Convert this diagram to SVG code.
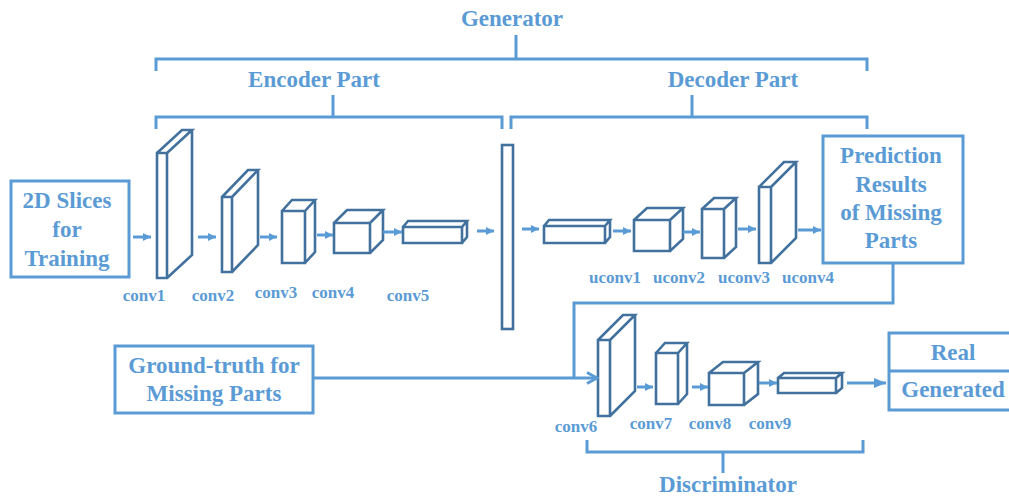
<svg xmlns="http://www.w3.org/2000/svg" width="1009" height="497" viewBox="0 0 1009 497">
<style>
.t{font-family:"Liberation Serif","Times New Roman",serif;font-weight:bold;fill:#5B9BD5;text-anchor:middle}
.big{font-size:23px}
.sm{font-size:17px}
.br{fill:none;stroke:#5B9BD5;stroke-width:3}
.box{fill:#fff;stroke:#5B9BD5;stroke-width:3}
.cub{fill:#fff;stroke:#41719C;stroke-width:2.6;stroke-linejoin:miter}
.ar{fill:none;stroke:#5B9BD5;stroke-width:3;marker-end:url(#ah)}
.ln{fill:none;stroke:#5B9BD5;stroke-width:3}
</style>
<defs>
<marker id="ah" markerUnits="userSpaceOnUse" markerWidth="10" markerHeight="10" viewBox="0 0 10 10" refX="9" refY="5" orient="auto"><path d="M1,1 L9,5 L1,9 Z" fill="#5B9BD5"/></marker>
<marker id="ah2" markerUnits="userSpaceOnUse" markerWidth="14" markerHeight="14" viewBox="0 0 14 14" refX="12" refY="7" orient="auto"><path d="M2,1.5 L12,7 L2,12.5" fill="none" stroke="#5B9BD5" stroke-width="3"/></marker>
<marker id="ah3" markerUnits="userSpaceOnUse" markerWidth="14" markerHeight="14" viewBox="0 0 14 14" refX="13" refY="7" orient="auto"><path d="M1,2 L13,7 L1,12 Z" fill="#5B9BD5"/></marker>
</defs>

<g id="labels-brackets">
<text class="t big" x="512" y="26">Generator</text>
<path class="br" d="M156,71 V59 H867 V71 M516,59 V35"/>
<text class="t big" x="314" y="87">Encoder Part</text>
<path class="br" d="M156,129 V117 H502 V129 M333,117 V95"/>
<text class="t big" x="733" y="87">Decoder Part</text>
<path class="br" d="M511,129 V117 H867 V129 M692,117 V95"/>
<text class="t big" x="728" y="492">Discriminator</text>
<path class="br" d="M587,440 V452 H863 V440 M723,452 V473"/>
</g>

<g id="input-slices">
<rect class="box" x="11" y="181" width="118" height="96"/>
<text class="t big" x="67" y="208">2D Slices</text>
<text class="t big" x="67" y="237">for</text>
<text class="t big" x="67" y="266">Training</text>
</g>

<g id="ground-truth">
<rect class="box" x="115" y="346" width="198" height="67"/>
<text class="t big" x="214" y="373">Ground-truth for</text>
<text class="t big" x="214" y="401">Missing Parts</text>
</g>

<g id="prediction">
<rect class="box" x="823" y="136" width="140" height="127"/>
<text class="t big" x="891" y="163">Prediction</text>
<text class="t big" x="891" y="192">Results</text>
<text class="t big" x="891" y="220">of Missing</text>
<text class="t big" x="891" y="248">Parts</text>
</g>

<g id="output">
<path class="ln" d="M1010,333 H889 V410 H1010 M889,371 H1010"/>
<text class="t big" x="953" y="360">Real</text>
<text class="t big" x="953" y="397">Generated</text>
</g>

<g id="conv1"><path class="cub" d="M157,153 h10 v125 h-10 Z M157,153 l25,-23 h10 l-25,23 M192,130 v125 l-25,23"/><text class="t sm" x="144" y="301">conv1</text></g>
<g id="conv2"><path class="cub" d="M222,197 h10 v75 h-10 Z M222,197 l26,-27 h10 l-26,27 M258,170 v75 l-26,27"/><text class="t sm" x="213" y="301">conv2</text></g>
<g id="conv3"><path class="cub" d="M282,211 h23 v52 h-23 Z M282,211 l10,-11 h23 l-10,11 M315,200 v52 l-10,11"/><text class="t sm" x="276" y="298">conv3</text></g>
<g id="conv4"><path class="cub" d="M334,223 h36 v30 h-36 Z M334,223 l13,-13 h36 l-13,13 M383,210 v30 l-13,13"/><text class="t sm" x="333" y="298">conv4</text></g>
<g id="conv5"><path class="cub" d="M403,227 h59 v16 h-59 Z M403,227 l5,-6 h59 l-5,6 M467,221 v16 l-5,6"/><text class="t sm" x="408" y="301">conv5</text></g>
<g id="bottleneck"><rect class="cub" x="502" y="145" width="11" height="184"/></g>
<g id="uconv1"><path class="cub" d="M544,226 h61 v17 h-61 Z M544,226 l5,-6 h61 l-5,6 M610,220 v17 l-5,6"/><text class="t sm" x="615" y="283">uconv1</text></g>
<g id="uconv2"><path class="cub" d="M634,220 h36 v31 h-36 Z M634,220 l13,-12 h36 l-13,12 M683,208 v31 l-13,12"/><text class="t sm" x="679" y="283">uconv2</text></g>
<g id="uconv3"><path class="cub" d="M702,209 h22 v49 h-22 Z M702,209 l12,-11 h22 l-12,11 M736,198 v49 l-12,11"/><text class="t sm" x="744" y="283">uconv3</text></g>
<g id="uconv4"><path class="cub" d="M759,187 h12 v76 h-12 Z M759,187 l25,-25 h12 l-25,25 M796,162 v76 l-25,25"/><text class="t sm" x="808" y="283">uconv4</text></g>
<g id="conv6"><path class="cub" d="M598,340 h12 v76 h-12 Z M598,340 l25,-25 h12 l-25,25 M635,315 v76 l-25,25"/><text class="t sm" x="576" y="432">conv6</text></g>
<g id="conv7"><path class="cub" d="M656,353 h22 v51 h-22 Z M656,353 l9,-10 h22 l-9,10 M687,343 v51 l-9,10"/><text class="t sm" x="651" y="429">conv7</text></g>
<g id="conv8"><path class="cub" d="M709,373 h35 v32 h-35 Z M709,373 l14,-11 h35 l-14,11 M758,362 v32 l-14,11"/><text class="t sm" x="710" y="429">conv8</text></g>
<g id="conv9"><path class="cub" d="M778,378 h58 v15 h-58 Z M778,378 l6,-5 h58 l-6,5 M842,373 v15 l-6,5"/><text class="t sm" x="770" y="429">conv9</text></g>

<g id="connectors">
<line class="ar" x1="133" y1="237" x2="151" y2="237"/>
<line class="ar" x1="198" y1="237" x2="216" y2="237"/>
<line class="ar" x1="260" y1="237" x2="277" y2="237"/>
<line class="ar" x1="317" y1="235" x2="333" y2="235"/>
<line class="ar" x1="383" y1="232" x2="402" y2="232"/>
<line class="ar" x1="477" y1="231" x2="494" y2="231"/>
<line class="ar" x1="522" y1="229" x2="539" y2="229"/>
<line class="ar" x1="613" y1="231" x2="631" y2="231"/>
<line class="ar" x1="683" y1="232" x2="700" y2="232"/>
<line class="ar" x1="738" y1="229" x2="756" y2="229"/>
<line class="ar" x1="798" y1="230" x2="821" y2="230"/>
<line class="ar" x1="637" y1="387" x2="653" y2="387"/>
<line class="ar" x1="692" y1="387" x2="708" y2="387"/>
<line class="ar" x1="759" y1="383" x2="777" y2="383"/>
<line class="ln" x1="847" y1="383" x2="886" y2="383" style="marker-end:url(#ah3)"/>
<path class="ln" d="M893,263 V303 H574 V378"/>
<path class="ln" d="M313,378 H597" style="marker-end:url(#ah2)"/>
</g>
</svg>
